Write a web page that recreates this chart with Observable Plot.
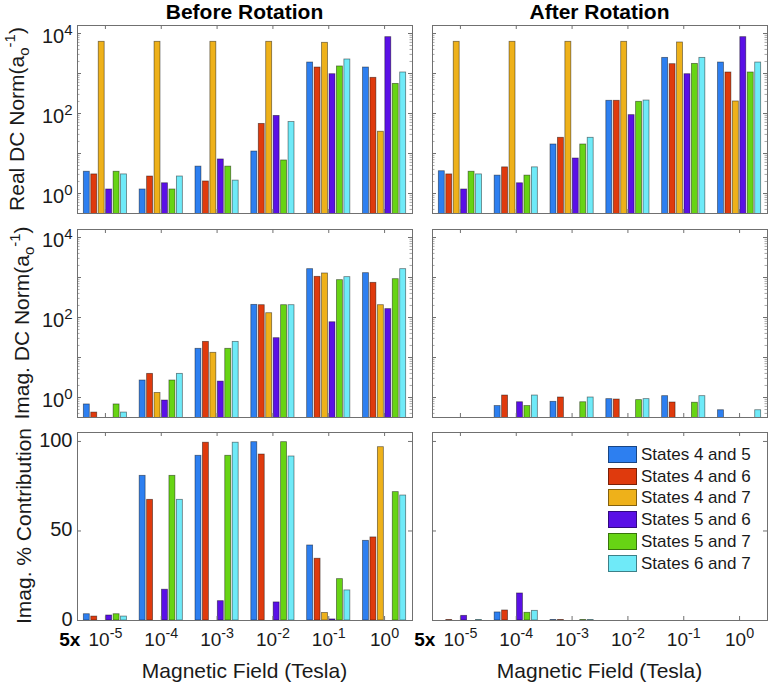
<!DOCTYPE html>
<html><head><meta charset="utf-8">
<script src="https://cdn.jsdelivr.net/npm/d3@7"></script>
<script src="https://cdn.jsdelivr.net/npm/@observablehq/plot@0.6"></script>
<style>
body{margin:0;background:#fff;}
#chart{position:relative;width:770px;height:682px;overflow:hidden;font-family:"Liberation Sans",Arial,Helvetica,sans-serif;color:#000;}
.abs{position:absolute;}
.title{font-weight:bold;font-size:21px;line-height:17px;white-space:nowrap;transform:translateX(-50%);}
.xlab{font-size:21px;line-height:21px;white-space:nowrap;transform:translateX(-50%);color:#1a1a1a;}
.ylab{font-size:21px;line-height:21px;white-space:nowrap;transform:translate(-50%,-50%) rotate(-90deg);color:#1a1a1a;}
.ylab sub,.ylab sup{font-size:15px;line-height:0;}
.ylab sub{vertical-align:-5px;}
.ylab sup{vertical-align:9px;}
.leg{font-size:17px;line-height:17px;white-space:nowrap;color:#1a1a1a;}
.sw{position:absolute;width:27px;height:15px;border:1px solid rgba(0,0,0,0.45);}
</style></head><body><div id="chart"></div>
<script>
// ---------- data ----------
const groups = [1, 2, 3, 4, 5, 6];
const fieldTicks = ["10^-5", "10^-4", "10^-3", "10^-2", "10^-1", "10^0"];
const fieldPrefix = "5x";
const series = ["States 4 and 5", "States 4 and 6", "States 4 and 7", "States 5 and 6", "States 5 and 7", "States 6 and 7"];
const colors = ["#2d7ff0", "#df3a0d", "#eeb11a", "#5a10e6", "#67d414", "#6feaf8"];
const logTicks = [1, 10, 100, 1000, 10000];
const logTickLabels = ["10^0", "10^2", "10^4"];
const logTickLabelValues = [1, 100, 10000];
const pctTicks = [0, 50, 100];
const pctTickLabels = ["0", "50", "100"];
const columnTitles = ["Before Rotation", "After Rotation"];
const rowLabels = ["Real DC Norm(a<sub>o</sub><sup>-1</sup>)", "Imag. DC Norm(a<sub>o</sub><sup>-1</sup>)", "Imag. % Contribution"];
const xLabel = "Magnetic Field (Tesla)";

// rows = field groups, columns = series
const realBefore = [
  [3.5, 3.0, 6200, 1.26, 3.5, 3.0],
  [1.26, 2.66, 6200, 1.8, 1.26, 2.66],
  [4.7, 2.0, 6200, 7.1, 4.7, 2.1],
  [11.2, 55, 6200, 87, 6.7, 61],
  [1880, 1410, 5850, 960, 1500, 2240],
  [1410, 780, 35, 8100, 550, 1060]
];
const realAfter = [
  [3.6, 3.0, 6200, 1.26, 3.5, 3.0],
  [2.8, 4.5, 6200, 1.8, 2.8, 4.5],
  [16.8, 24.7, 6200, 7.5, 16.8, 24.7],
  [208, 208, 6200, 91, 196, 211],
  [2460, 1710, 5960, 960, 1740, 2460],
  [1880, 1060, 200, 8100, 1060, 1880]
];
const imagBefore = [
  [0.67, 0.42, null, null, 0.67, 0.42],
  [2.66, 3.9, 1.3, 0.84, 2.66, 3.9],
  [16.5, 24.6, 13.1, 2.5, 16.5, 24.6],
  [207, 203, 128, 30.4, 203, 203],
  [1616, 1040, 1260, 76, 858, 1020],
  [1283, 736, 203, 162, 908, 1616]
];
const imagAfter = [
  [null, null, null, null, null, null],
  [0.61, 1.12, null, 0.76, 0.61, 1.12],
  [0.78, 1.0, null, null, 0.76, 1.0],
  [0.91, 0.89, null, null, 0.86, 0.91],
  [1.08, 0.75, null, null, 0.74, 1.08],
  [0.48, null, null, null, null, 0.48]
];
const pctBefore = [
  [3.5, 2.2, 0, 2.8, 3.5, 2.2],
  [80.8, 67.4, 0, 17.2, 80.8, 67.4],
  [92, 99.3, 0, 10.8, 92, 99.3],
  [99.6, 92.7, 0, 10.1, 99.6, 91.6],
  [41.9, 34.5, 4.2, 0.6, 23.1, 16.8],
  [44.5, 46.4, 96.8, 0, 71.7, 69.8]
];
const pctAfter = [
  [0, 0.3, 0, 2.6, 0, 0.3],
  [4.5, 5.6, 0, 15.1, 4.3, 5.4],
  [0.3, 0.3, 0, 0, 0.3, 0.3],
  [0, 0, 0, 0, 0, 0],
  [0, 0, 0, 0, 0, 0],
  [0, 0, 0, 0, 0, 0]
];

// ---------- layout ----------
const W = 335, H = 188;
const colLeft = [77, 432];
const rowTop = [25, 229, 432];
const frameColor = "#707070";
const chart = document.getElementById("chart");

function supify(svg) {
  svg.querySelectorAll("text").forEach(t => {
    const s = t.textContent;
    if (!s.includes("^")) return;
    const [base, exp] = s.split("^");
    while (t.firstChild) t.removeChild(t.firstChild);
    const a = document.createElementNS("http://www.w3.org/2000/svg", "tspan");
    a.textContent = base;
    const b = document.createElementNS("http://www.w3.org/2000/svg", "tspan");
    b.textContent = exp;
    b.setAttribute("dy", "-0.55em");
    b.setAttribute("font-size", "0.75em");
    t.appendChild(a); t.appendChild(b);
  });
}

function makePanel(values, row, col) {
  const log = row < 2;
  const showY = col === 0;
  const showX = row === 2;
  const rows = [];
  values.forEach((vals, gi) => vals.forEach((v, si) => {
    if (v != null && v > 0) rows.push({group: groups[gi], s: si, series: series[si], v});
  }));
  const slot = 0.8 / series.length, bw = slot * 0.8;
  const off = d => d.group + (d.s - (series.length - 1) / 2) * slot;
  const ml = showY ? 77 : 34, mr = 3, mt = 8, mb = showX ? 36 : 8;
  const yDomain = log ? [10 ** -0.5, 10 ** 4.2] : [0, 105];
  const majors = log ? logTicks : pctTicks;
  const minors = log ? d3.scaleLog().domain(yDomain).ticks().filter(v => !logTicks.includes(v)) : [];
  const marks = [
    Plot.rect(rows, {
      x1: d => off(d) - bw / 2, x2: d => off(d) + bw / 2,
      y1: log ? 1e-3 : 0, y2: "v",
      fill: "series", stroke: "#000", strokeOpacity: 0.5, strokeWidth: 0.8, clip: true
    }),
    Plot.frame({stroke: frameColor, strokeWidth: 1}),
    Plot.tickX(groups, {x: d => d, insetTop: H - 4, stroke: frameColor}),
    Plot.tickX(groups, {x: d => d, insetBottom: H - 4, stroke: frameColor}),
    Plot.tickY(majors, {y: d => d, insetRight: W - 4, stroke: frameColor}),
    Plot.tickY(majors, {y: d => d, insetLeft: W - 4, stroke: frameColor})
  ];
  if (log) {
    marks.push(Plot.tickY(minors, {y: d => d, insetRight: W - 2.5, stroke: frameColor, strokeOpacity: 0.6}));
    marks.push(Plot.tickY(minors, {y: d => d, insetLeft: W - 2.5, stroke: frameColor, strokeOpacity: 0.6}));
  }
  if (showY) {
    const vals = log ? logTickLabelValues : pctTicks;
    const labs = log ? logTickLabels : pctTickLabels;
    marks.push(Plot.text(vals, {y: d => d, text: (d, i) => labs[i], frameAnchor: "left", textAnchor: "end", dx: -5, dy: log ? 3 : -1, fontSize: 20}));
  }
  if (showX) {
    marks.push(Plot.text(groups, {x: d => d, text: (d, i) => fieldTicks[i], frameAnchor: "bottom", lineAnchor: "top", dy: 12, fontSize: 19}));
    marks.push(Plot.text([groups[0]], {x: d => d, text: () => fieldPrefix, frameAnchor: "bottom", lineAnchor: "top", textAnchor: "end", dx: -25, dy: 12, fontSize: 19, fontWeight: "bold", fill: "#000"}));
  }
  const svg = Plot.plot({
    width: ml + W + mr, height: mt + H + mb,
    marginLeft: ml, marginRight: mr, marginTop: mt, marginBottom: mb,
    style: {fontFamily: "'Liberation Sans', Arial, Helvetica, sans-serif", fontSize: "19px", background: "transparent", overflow: "visible", maxWidth: "none", color: "#1a1a1a"},
    x: {type: "linear", domain: [0.5, 6.5], axis: null},
    y: log ? {type: "log", domain: yDomain, axis: null} : {type: "linear", domain: yDomain, axis: null},
    color: {domain: series, range: colors},
    marks
  });
  const div = document.createElement("div");
  div.className = "abs";
  div.style.left = (colLeft[col] - ml) + "px";
  div.style.top = (rowTop[row] - mt) + "px";
  div.appendChild(svg);
  chart.appendChild(div);
  supify(svg);
}

const panels = [[realBefore, realAfter], [imagBefore, imagAfter], [pctBefore, pctAfter]];
panels.forEach((pair, r) => pair.forEach((vals, c) => makePanel(vals, r, c)));

// titles
columnTitles.forEach((t, c) => {
  const d = document.createElement("div");
  d.className = "abs title";
  d.style.left = (colLeft[c] + W / 2) + "px";
  d.style.top = "3px";
  d.textContent = t;
  chart.appendChild(d);
});
// x labels
colLeft.forEach(x => {
  const d = document.createElement("div");
  d.className = "abs xlab";
  d.style.left = (x + W / 2) + "px";
  d.style.top = "660px";
  d.textContent = xLabel;
  chart.appendChild(d);
});
// y labels
const ylabX = [16, 21, 23];
rowLabels.forEach((t, r) => {
  const d = document.createElement("div");
  d.className = "abs ylab";
  d.style.left = ylabX[r] + "px";
  d.style.top = (rowTop[r] + H / 2) + "px";
  d.innerHTML = t;
  chart.appendChild(d);
});
// legend
const leg = document.createElement("div");
leg.className = "abs leg";
leg.style.left = "608px";
leg.style.top = "446px";
series.forEach((s, i) => {
  const sw = document.createElement("div");
  sw.className = "sw";
  sw.style.left = "0px";
  sw.style.top = (i * 21.7) + "px";
  sw.style.background = colors[i];
  leg.appendChild(sw);
  const tx = document.createElement("div");
  tx.className = "abs";
  tx.style.left = "33px";
  tx.style.top = (i * 21.7) + "px";
  tx.textContent = s;
  leg.appendChild(tx);
});
chart.appendChild(leg);
</script></body></html>
